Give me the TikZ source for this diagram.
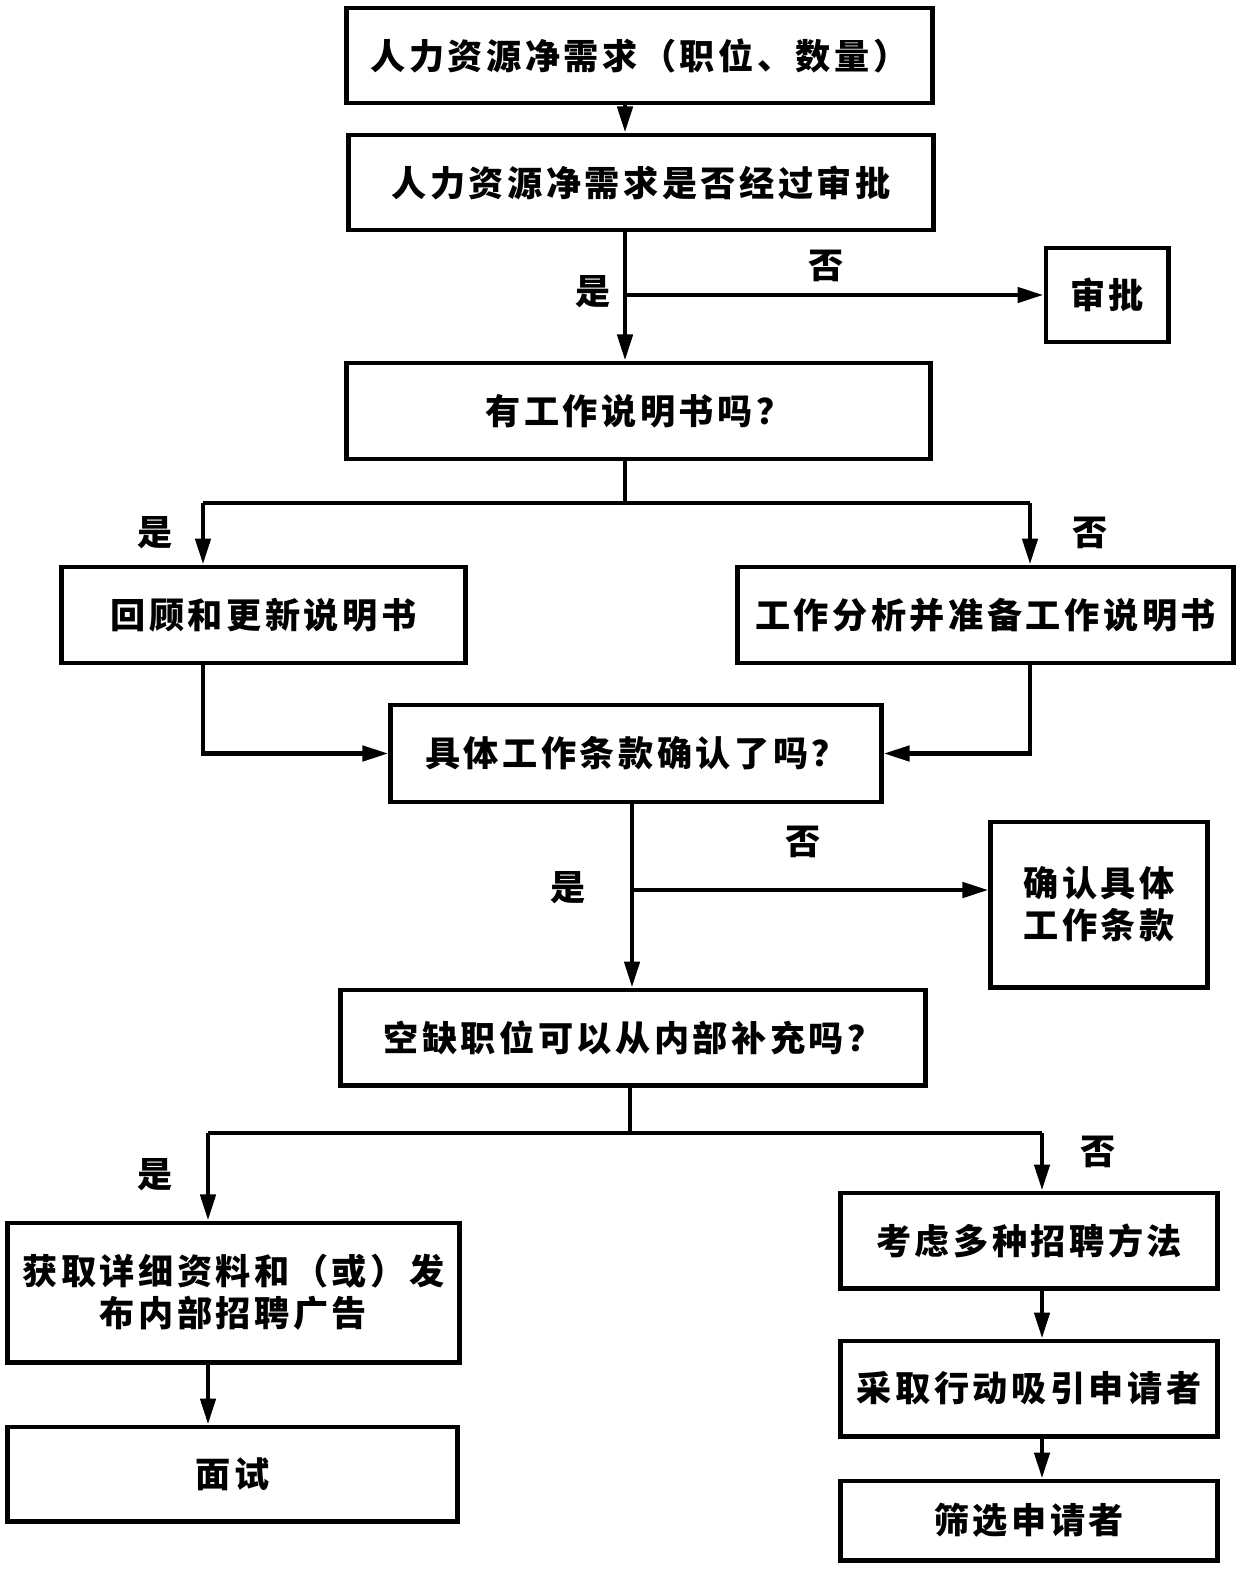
\documentclass[tikz,border=0pt]{standalone}
\usepackage{fontspec}
\setmainfont{Noto Sans CJK SC}[LetterSpace=10]
\usepackage{tikz}
\usetikzlibrary{arrows.meta, positioning, calc}

\begin{document}
\begin{tikzpicture}[x=0.01cm,y=-0.01cm,
  blk/.style={draw,line width=1.4pt,inner sep=0pt,align=center,font=\fontsize{10}{12}\selectfont\bfseries},
  arr/.style={line width=1.3pt,-{Triangle[length=0.26cm,width=0.15cm]}},
  lbl/.style={font=\fontsize{10}{12}\selectfont\bfseries}]
\useasboundingbox (0,0) rectangle (1249,1582);
% boxes
\node[blk,minimum width=5.85cm,minimum height=0.95cm] (need) at (639.5,55.5) {人力资源净需求（职位、数量）};
\node[blk,minimum width=5.84cm,minimum height=0.95cm] (appr) at (641,182.5) {人力资源净需求是否经过审批};
\node[blk,minimum width=1.22cm,minimum height=0.94cm] (sp) at (1107,295) {审批};
\node[blk,minimum width=5.83cm,minimum height=0.96cm] (desc) at (638.5,411) {有工作说明书吗？};
\node[blk,minimum width=4.03cm,minimum height=0.96cm] (rev) at (263.5,615) {回顾和更新说明书};
\node[blk,minimum width=4.95cm,minimum height=0.96cm] (ana) at (985.5,615) {工作分析并准备工作说明书};
\node[blk,minimum width=4.90cm,minimum height=0.97cm] (term) at (636,753.5) {具体工作条款确认了吗？};
\node[blk,minimum width=2.16cm,minimum height=1.65cm] (conf) at (1099,904.5) {确认具体\\工作条款};
\node[blk,minimum width=5.84cm,minimum height=0.95cm] (fill) at (633,1037.5) {空缺职位可以从内部补充吗？};
\node[blk,minimum width=4.51cm,minimum height=1.39cm] (intl) at (233.5,1292.5) {获取详细资料和（或）发\\布内部招聘广告};
\node[blk,minimum width=4.49cm,minimum height=0.94cm] (intv) at (232.5,1474) {面试};
\node[blk,minimum width=3.76cm,minimum height=0.95cm] (meth) at (1029,1240.5) {考虑多种招聘方法};
\node[blk,minimum width=3.76cm,minimum height=0.95cm] (act) at (1029,1388.5) {采取行动吸引申请者};
\node[blk,minimum width=3.76cm,minimum height=0.79cm] (scr) at (1029,1520.5) {筛选申请者};
% junctions
\coordinate (tA) at (625,295);
\coordinate (s1) at (625,503);
\coordinate (l1) at (203,503);
\coordinate (r1) at (1030,503);
\coordinate (tB) at (632,890);
\coordinate (s2) at (630,1133);
\coordinate (l2) at (208,1133);
\coordinate (r2) at (1042,1133);
% connectors
\draw[arr] (need.south -| tA) -- (appr.north -| tA);
\draw[arr] (appr.south -| tA) -- (desc.north -| tA);
\draw[arr] (tA) -- (sp.west |- tA);
\draw[line width=1.3pt] (desc.south -| s1) -- (s1);
\draw[line width=1.3pt] (l1) -- (r1);
\draw[arr] (l1) -- (rev.north -| l1);
\draw[arr] (r1) -- (ana.north -| r1);
\draw[arr] (rev.south -| l1) |- (term.west);
\draw[arr] (ana.south -| r1) |- (term.east);
\draw[arr] (term.south -| tB) -- (fill.north -| tB);
\draw[arr] (tB) -- (conf.west |- tB);
\draw[line width=1.3pt] (fill.south -| s2) -- (s2);
\draw[line width=1.3pt] (l2) -- (r2);
\draw[arr] (l2) -- (intl.north -| l2);
\draw[arr] (r2) -- (meth.north -| r2);
\draw[arr] (intl.south -| l2) -- (intv.north -| l2);
\draw[arr] (meth.south -| r2) -- (act.north -| r2);
\draw[arr] (act.south -| r2) -- (scr.north -| r2);
% labels
\node[lbl] (y1) at (593,292) {是};
\node[lbl] (n1) at (826,266) {否};
\node[lbl] (y2) at (155,533) {是};
\node[lbl] (n2) at (1090,533) {否};
\node[lbl] (n3) at (803,842) {否};
\node[lbl] (y3) at (568,888) {是};
\node[lbl] (y4) at (155,1175) {是};
\node[lbl] (n4) at (1098,1152) {否};
\end{tikzpicture}
\end{document}
